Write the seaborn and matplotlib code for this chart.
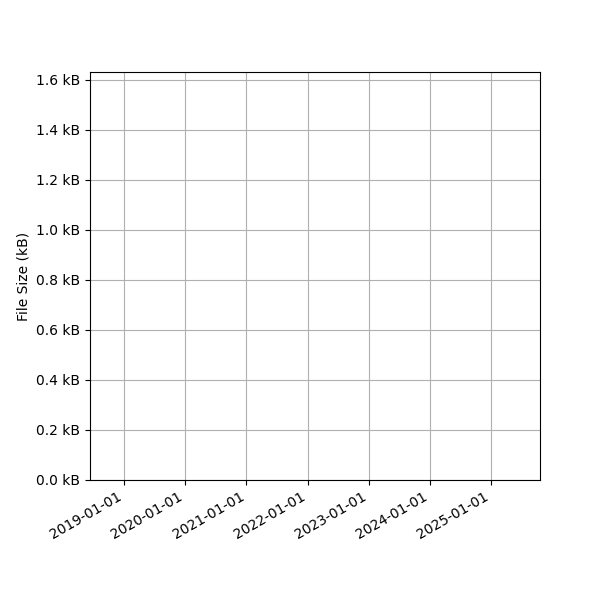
import matplotlib
matplotlib.use("Agg")
import matplotlib.pyplot as plt
import matplotlib.dates as mdates
import matplotlib.ticker as mticker
import seaborn as sns
import pandas as pd

# commit dates and file size (kB) at each commit
commit_dates = ["2018-10-12", "2019-06-03", "2020-02-17", "2021-04-08",
                "2022-05-20", "2023-03-14", "2024-07-02", "2025-06-20"]
file_sizes_kb = [0.62, 0.78, 0.91, 1.05, 1.18, 1.32, 1.47, 1.554]

df = pd.DataFrame({"date": pd.to_datetime(commit_dates), "size": file_sizes_kb})

fig, ax = plt.subplots(figsize=(6, 6), dpi=100)
# zero-width bars: they set the axis range but draw nothing visible
ax.bar(df["date"], df["size"], width=0, linewidth=0, color=sns.color_palette()[0])

ax.set_ylabel("File Size (kB)")
ax.yaxis.set_major_formatter(mticker.FuncFormatter(lambda v, _: f"{v:.1f} kB"))
ax.xaxis.set_major_locator(mdates.YearLocator())
ax.xaxis.set_major_formatter(mdates.DateFormatter("%Y-%m-%d"))
ax.grid(True)
fig.autofmt_xdate()
fig.subplots_adjust(left=0.15, right=0.9, top=0.88, bottom=0.2)
fig.savefig("out.png", dpi=100)
